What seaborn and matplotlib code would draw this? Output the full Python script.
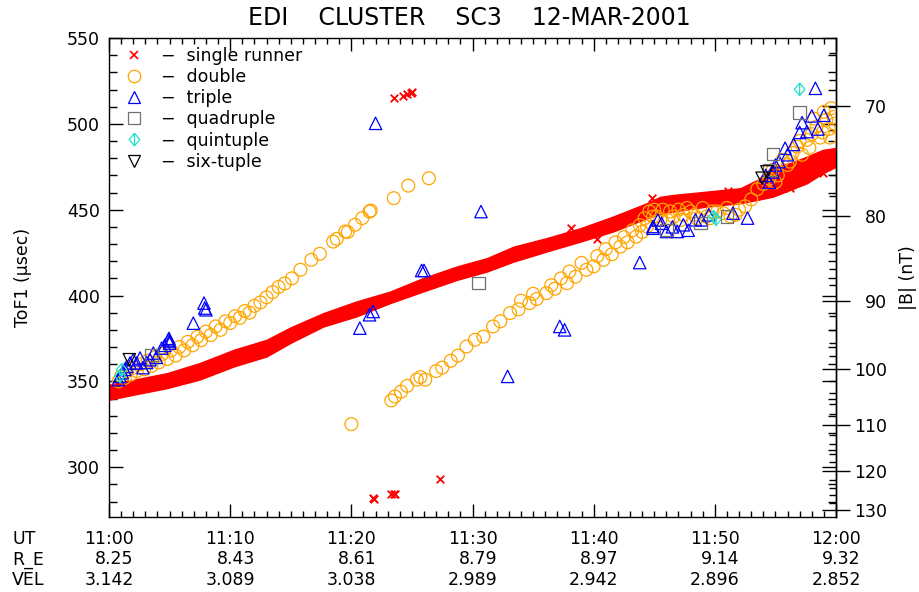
import numpy as np
import matplotlib
matplotlib.use("Agg")
import matplotlib.pyplot as plt
import matplotlib.transforms as mtrans
from matplotlib.path import Path
from matplotlib.lines import Line2D
from matplotlib.ticker import MultipleLocator, FixedLocator
import seaborn as sns

# ---------------- data (minutes after 11:00 UT, ToF1 in microseconds) ----------------
# single runner: dense band (edges) + isolated points
band_t = [0, 2, 4.8, 7.5, 10.3, 13, 15, 17.7, 20.4, 23.2, 25.9, 28.7, 31.2, 33.4, 36.1,
          38.9, 41.6, 44.4, 45.5, 46.6, 49.3, 52.1, 53.5, 54.8, 56.2, 57.6, 58.9, 60]
band_top = [348.0, 350.9, 354.8, 360.7, 368.4, 374.2, 381.5, 389.8, 396.5, 402.3, 410.1,
            416.9, 421.8, 428.5, 433.4, 439.2, 446.0, 453.8, 457.5, 458.6, 460.5, 462.5,
            467.3, 475.1, 477.1, 480.9, 484.8, 486.0]
band_bot = [339.3, 342.2, 346.1, 351.1, 358.7, 364.5, 372.5, 382.0, 387.8, 395.6, 402.3,
            409.1, 414.0, 419.8, 425.6, 431.4, 437.3, 445.1, 447.5, 449.0, 451.8, 453.8,
            455.7, 457.6, 461.5, 465.4, 471.2, 475.0]
single_t = [21.8, 21.9, 23.3, 23.5, 23.6, 27.3, 23.5, 24.3, 24.6, 24.9, 25.0,
            38.1, 40.3, 44.8, 51.1, 56.2, 58.9]
single_tof = [282.1, 281.5, 284.4, 284.6, 284.2, 293.1, 515.3, 516.5, 517.5, 518.0, 518.5,
              439.2, 432.8, 456.7, 461.1, 462.5, 471.6]

# double (two branches)
double_up_t = [0.8, 1.0, 1.3, 1.5, 1.8, 2.0, 2.3, 2.6, 2.9, 3.2, 3.5, 3.8, 4.1, 4.4, 4.8,
               5.1, 5.5, 5.8, 6.2, 6.5, 6.9, 7.3, 7.6, 8.0, 8.4, 8.8, 9.2, 9.6, 10.0, 10.4,
               10.8, 11.2, 11.6, 12.0, 12.5, 13.0, 13.5, 14.0, 14.5, 15.1, 15.8, 16.7, 17.4,
               18.5, 18.8, 19.5, 19.7, 20.3, 20.9, 21.5, 21.6, 23.5, 24.7, 26.4]
double_up_tof = [350, 353, 352, 356, 354, 358, 356, 360, 357, 362, 359, 364, 361, 366, 363,
                 368, 365, 370, 368, 373, 371, 376, 374, 379, 377, 382, 380, 385, 384, 388,
                 387, 391, 390, 394, 396, 399, 402, 405, 407, 410, 415, 420.8, 424.3,
                 431.4, 433, 437.3, 437, 441.2, 445.1, 448.9, 449.5, 456.7, 464, 468.3]
double_lo_t = [20.0, 23.3, 23.6, 24.1, 24.6, 25.4, 25.7, 26.1, 27.0, 27.5, 28.2, 28.8, 29.5,
               30.2, 30.9, 31.7, 32.3, 33.1, 33.8, 34.7, 35.3, 36.1, 36.8, 37.8, 38.5, 39.4,
               40.0, 40.8, 41.5, 42.2, 42.8, 43.5, 44.0, 44.4, 44.9, 45.2, 45.7, 46.1, 46.6,
               47.0, 47.4, 48.0, 48.5, 49.3, 49.8, 50.7, 51.3, 52.0, 53.5, 54.0, 54.5, 54.8,
               55.2, 55.6, 56.0, 56.4, 56.8, 57.2, 57.6, 58.0, 58.4, 58.7, 59.2, 59.4, 59.6,
               59.8, 59.9,
               34.0, 35.0, 36.5, 37.3, 38.0, 39.0, 40.3, 41.0, 41.8, 42.5, 43.2, 43.8, 44.2,
               44.6, 45.0, 45.5, 46.3, 47.2, 47.7, 48.3, 49.0, 49.6, 50.2, 51.0, 51.7, 52.5,
               53.0, 55.0, 56.2, 57.0, 57.8, 58.2, 58.9, 59.0, 59.5]
double_lo_tof = [325.1, 338.9, 341.2, 344, 347.4, 351, 352.5, 351, 356, 358, 362, 365, 370.3,
                 374.2, 376.1, 382, 385, 389.8, 392, 395.6, 398, 401.4, 404, 407.2, 411, 415,
                 417, 420.8, 424, 428.5, 431, 434.3, 437, 440.2, 446, 446, 450, 444, 446,
                 450, 447, 449, 445, 446, 449, 448, 446, 450, 462, 465, 468, 473.2,
                 470, 479, 476, 483, 486.7, 482, 490.6, 494, 498.4, 492, 502.3, 497, 509.1,
                 504, 500,
                 397, 401, 406, 410, 414, 419, 423, 427, 431, 434, 438, 441, 445,
                 449, 450, 444, 449, 444, 451, 447, 451, 445, 449, 451, 447, 452,
                 456, 466, 478, 490, 486, 503, 495, 507, 492]

triple_t = [0.77, 0.9, 1.1, 1.3, 1.46, 1.73, 2.0, 2.28, 2.56, 2.8, 3.1, 3.38, 3.66, 3.9, 4.35,
            4.6, 4.9, 5.0, 5.0, 4.95, 6.96, 7.84, 7.9, 8.0, 20.7, 21.5, 21.8, 22.0, 25.8,
            26.0, 30.7, 32.9, 37.2, 37.6, 43.8, 44.9, 44.9, 45.3, 45.6, 46.0, 46.5, 46.9,
            47.4, 47.8, 48.4, 48.9, 49.5, 51.5, 52.7, 54.2, 54.5, 54.8, 55.0, 55.3, 55.8,
            56.0, 56.5, 57.0, 57.2, 57.6, 58.0, 58.3, 58.5, 59.0]
triple_tof = [351, 352.9, 355, 357, 358.7, 360.7, 362.6, 360.7, 363.6, 358, 361, 362.6, 366.5,
              364, 369.4, 371, 374.2, 372.3, 373.5, 375, 383.9, 395.6, 392.7, 391.7, 381,
              388.8, 390.7, 500.3, 414.6, 414.6, 448.9, 352.9, 382, 380, 419.2, 440.2,
              439.2, 444, 442.1, 437.3, 440, 437.3, 441.2, 438, 444.1, 444.1, 447, 448,
              445.1, 470, 466, 472, 476, 478, 485.8, 482, 488, 495, 500.7, 495.5, 504.6,
              520.7, 497, 505]

quad_t = [3.5, 30.5, 46.0, 48.8, 51.0, 54.5, 54.8, 57.0]
quad_tof = [365.5, 407.2, 438.2, 442.1, 446.0, 473.2, 482.3, 506.5]

quint_t = [0.9, 1.05, 49.9, 50.1, 57.0]
quint_tof = [353.0, 356.8, 446.0, 444.5, 520.1]

six_t = [1.68, 53.9, 54.3]
six_tof = [362.6, 468.3, 472.0]

ut_labels = ["11:00", "11:10", "11:20", "11:30", "11:40", "11:50", "12:00"]
re_labels = ["8.25", "8.43", "8.61", "8.79", "8.97", "9.14", "9.32"]
vel_labels = ["3.142", "3.089", "3.038", "2.989", "2.942", "2.896", "2.852"]
b_ticks = [70, 80, 90, 100, 110, 120, 130]

legend_labels = ["single runner", "double", "triple", "quadruple", "quintuple", "six-tuple"]

# ---------------- styling ----------------
sns.set_style("ticks")
plt.rcParams["font.family"] = ["DejaVu Sans"]
plt.rcParams.update({
    "axes.linewidth": 1.0, "axes.edgecolor": "black", "text.color": "black",
    "axes.labelcolor": "black", "xtick.color": "black", "ytick.color": "black",
})

RED, ORANGE, BLUE, GRAY, CYAN, BLACK = "#FF0000", "#FFA500", "#0000FF", "#707070", "#20E0CC", "#000000"
FS = 12.5

quint_marker = Path([(0, 1), (-0.85, 0), (0, -1), (0.85, 0), (0, 1), (0, 1), (0, -1)],
                    [Path.MOVETO, Path.LINETO, Path.LINETO, Path.LINETO, Path.CLOSEPOLY,
                     Path.MOVETO, Path.LINETO])

fig = plt.figure(figsize=(9.19, 5.92), dpi=100)
ax = fig.add_axes([109 / 919, 1 - 517 / 592, 727 / 919, 479 / 592])

# single runner band + points
ax.fill_between(band_t, band_bot, band_top, color=RED, lw=1.0, zorder=1)
sns.scatterplot(x=single_t, y=single_tof, marker="x", color=RED, s=30, linewidth=1.3,
                ax=ax, zorder=2)

def hollow(xs, ys, marker, col, size, lw=0.9, z=3):
    sns.scatterplot(x=xs, y=ys, marker=marker, s=size, color=col, facecolor="none",
                    edgecolor=col, linewidth=lw, ax=ax, zorder=z)

hollow(double_up_t + double_lo_t, double_up_tof + double_lo_tof, "o", ORANGE, 85)
hollow(triple_t, triple_tof, "^", BLUE, 80, z=4)
hollow(quad_t, quad_tof, "s", GRAY, 80, z=5)
hollow(quint_t, quint_tof, quint_marker, CYAN, 80, z=6)
hollow(six_t, six_tof, "v", BLACK, 80, z=7)

# axes ranges and ticks
ax.set_xlim(0, 60)
ax.set_ylim(271, 550)
ax.set_xticks(range(0, 61, 10))
ax.set_xticklabels([f"{u}\n{r}\n{v}" for u, r, v in zip(ut_labels, re_labels, vel_labels)])
for lab in ax.get_xticklabels():
    lab.set_multialignment("right")
ax.xaxis.set_minor_locator(MultipleLocator(1))
ax.set_yticks(range(300, 551, 50))
ax.yaxis.set_minor_locator(MultipleLocator(10))
ax.tick_params(which="both", direction="in", top=True, right=True, width=1.0,
               color="black", labelcolor="black", labelsize=FS)
ax.tick_params(axis="x", which="major", length=9.5, pad=9)
ax.tick_params(axis="x", which="minor", length=4.3)
ax.tick_params(axis="y", which="major", length=10, pad=6.5)
ax.tick_params(axis="y", which="minor", length=5.8)
for s in ax.spines.values():
    s.set_color("black")
    s.set_linewidth(1.0)

ax.set_ylabel("ToF1 (μsec)", fontsize=FS, labelpad=25, color="black")
ax.set_xlabel("")

# right |B| axis: gyro-time T = 35725/B (µs, B in nT)
def tof2b(v):
    v = np.asarray(v, dtype=float)
    return 35725.0 / np.where(v == 0, 1e-9, v)

def b2tof(b):
    b = np.asarray(b, dtype=float)
    return 35725.0 / np.where(b == 0, 1e-9, b)

sec = ax.secondary_yaxis("right", functions=(tof2b, b2tof))
sec.set_yticks(b_ticks)
sec.yaxis.set_minor_locator(FixedLocator([b for b in range(66, 131, 2) if b % 10]))
sec.tick_params(which="major", direction="inout", length=20, width=1.0, pad=26.5,
                labelsize=FS, color="black", labelcolor="black")
sec.tick_params(which="minor", direction="in", length=5, width=1.0, color="black")
for lab in sec.get_yticklabels():
    lab.set_horizontalalignment("right")
sec.spines["right"].set_color("black")
sec.set_ylabel("|B| (nT)", fontsize=FS, labelpad=9, color="black")

# legend
handles = [
    Line2D([], [], ls="none", marker="x", color=RED, markersize=5.5, mew=1.2),
    Line2D([], [], ls="none", marker="o", color=ORANGE, mfc="none", markersize=9, mew=0.9),
    Line2D([], [], ls="none", marker="^", color=BLUE, mfc="none", markersize=9, mew=0.9),
    Line2D([], [], ls="none", marker="s", color=GRAY, mfc="none", markersize=8.5, mew=0.9),
    Line2D([], [], ls="none", marker=quint_marker, color=CYAN, mfc="none", markersize=9, mew=0.9),
    Line2D([], [], ls="none", marker="v", color=BLACK, mfc="none", markersize=9, mew=0.9),
]
ax.legend(handles, ["\u2212  " + l for l in legend_labels], loc="upper left",
          bbox_to_anchor=(16 / 727, 1 - 9 / 479), frameon=False, fontsize=FS,
          handlelength=1.0, handletextpad=1.1, labelspacing=0.18, borderpad=0,
          borderaxespad=0, labelcolor="black")

# row labels under the time axis
tr = mtrans.blended_transform_factory(fig.transFigure, ax.transAxes) + \
    mtrans.ScaledTranslation(0, -9 / 72, fig.dpi_scale_trans)
fig.text(12 / 919, 0, "UT\nR_E\nVEL", transform=tr, ha="left", va="top",
         fontsize=FS, linespacing=1.2, color="black")

# title
fig.text(469 / 919, 1 - 18 / 592, "EDI    CLUSTER    SC3    12-MAR-2001", ha="center",
         va="center", fontsize=17, color="black")

fig.savefig("out.png", dpi=100)
